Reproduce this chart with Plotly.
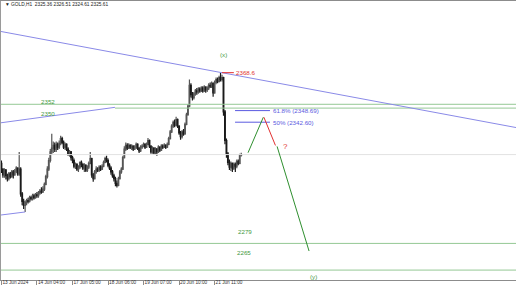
import plotly.graph_objects as go

# ---------------- data (GOLD H1, bar index based like MT4) ----------------
first_open = 2321.0
closes = [
    2318.0, 2315.0, 2317.5, 2314.5, 2313.0, 2315.5, 2314.0, 2316.5, 2315.0, 2317.0,
    2318.5, 2315.5, 2318.0, 2305.0, 2301.0, 2299.0, 2300.5, 2301.5, 2301.0, 2303.0,
    2302.5, 2304.0, 2303.0, 2304.5, 2304.0, 2305.5, 2306.5, 2306.0, 2307.5, 2310.0,
    2314.0, 2318.0, 2322.5, 2327.0, 2329.0, 2330.5, 2328.5, 2331.0, 2329.5, 2331.5,
    2334.0, 2332.0, 2329.5, 2331.0, 2328.5, 2326.0, 2327.0, 2324.0, 2322.5, 2319.5,
    2320.5, 2318.0, 2319.0, 2321.5, 2320.5, 2318.5, 2320.0, 2317.5, 2319.0, 2321.0,
    2323.5, 2315.0, 2313.0, 2316.5, 2318.0, 2317.5, 2319.0, 2318.0, 2319.5, 2321.5,
    2323.5, 2322.5, 2320.0, 2318.5, 2316.5, 2314.5, 2313.0, 2310.5, 2309.5, 2313.0,
    2316.5, 2318.0, 2324.0, 2328.5, 2330.5, 2329.0, 2330.5, 2329.5, 2330.0, 2328.5,
    2329.5, 2331.0, 2329.0, 2327.5, 2329.5, 2330.0, 2331.0, 2329.5, 2331.0, 2333.0,
    2330.0, 2327.0, 2329.0, 2326.5, 2328.5, 2327.0, 2329.5, 2328.0, 2330.0, 2329.5,
    2330.5, 2329.5, 2331.0, 2334.0, 2337.5, 2340.5, 2342.5, 2341.0, 2344.0, 2340.5,
    2337.0, 2335.0, 2337.5, 2336.5, 2341.5, 2346.5, 2351.0, 2362.0, 2357.0, 2355.5,
    2357.5, 2359.0, 2358.5, 2360.0, 2359.0, 2360.5, 2359.0, 2361.0, 2359.5, 2360.5,
    2362.0, 2361.5, 2363.0, 2358.0, 2363.5, 2365.0, 2364.0, 2366.0, 2365.0, 2366.0,
    2348.0, 2333.0, 2326.0, 2321.5, 2319.0, 2321.0, 2318.5, 2320.5, 2319.5, 2322.0,
    2321.0, 2325.36, 2325.61,
]
highs = [
    2322.5, 2318.5, 2318.5, 2318.0, 2315.5, 2316.5, 2316.5, 2317.5, 2317.5, 2318.0,
    2319.5, 2319.0, 2327.0, 2319.0, 2306.0, 2302.5, 2301.5, 2302.5, 2303.0, 2304.0,
    2304.0, 2305.0, 2305.0, 2305.5, 2306.0, 2306.5, 2307.5, 2308.5, 2309.0, 2311.0,
    2315.0, 2319.5, 2324.0, 2328.5, 2336.5, 2332.5, 2332.0, 2332.5, 2332.0, 2333.0,
    2335.5, 2335.0, 2333.0, 2332.0, 2331.5, 2329.5, 2328.0, 2327.5, 2325.0, 2323.5,
    2321.5, 2321.0, 2320.0, 2322.0, 2322.5, 2321.0, 2321.0, 2320.5, 2320.0, 2322.0,
    2327.0, 2324.0, 2316.0, 2317.5, 2319.5, 2319.0, 2320.0, 2320.0, 2320.5, 2322.5,
    2324.5, 2325.0, 2323.5, 2321.0, 2319.5, 2317.5, 2315.5, 2314.0, 2312.0, 2314.0,
    2317.5, 2319.0, 2325.0, 2330.0, 2332.0, 2331.5, 2331.5, 2331.0, 2331.0, 2330.5,
    2330.5, 2332.0, 2331.5, 2329.5, 2330.5, 2331.0, 2332.0, 2331.5, 2332.0, 2334.3,
    2333.5, 2330.5, 2330.0, 2329.5, 2329.5, 2329.0, 2330.5, 2330.0, 2331.0, 2331.0,
    2331.5, 2331.0, 2332.0, 2335.0, 2338.5, 2341.5, 2343.5, 2344.0, 2345.5, 2344.5,
    2341.0, 2338.0, 2338.5, 2339.0, 2342.5, 2347.5, 2352.0, 2365.0, 2363.0, 2358.5,
    2358.5, 2360.0, 2360.5, 2361.0, 2361.0, 2361.5, 2361.5, 2362.0, 2361.5, 2361.5,
    2363.0, 2363.5, 2364.0, 2363.5, 2364.5, 2366.0, 2366.0, 2367.0, 2368.6, 2367.5,
    2366.5, 2349.0, 2334.0, 2327.0, 2323.0, 2322.0, 2321.5, 2321.5, 2321.5, 2323.0,
    2323.0, 2326.0, 2326.51,
]
lows = [
    2316.0, 2313.5, 2313.5, 2312.5, 2311.5, 2312.0, 2313.0, 2313.5, 2313.0, 2314.5,
    2316.0, 2314.5, 2314.5, 2303.5, 2299.0, 2297.0, 2295.5, 2299.0, 2300.0, 2300.5,
    2301.5, 2301.5, 2302.0, 2302.5, 2303.0, 2303.0, 2304.5, 2305.0, 2305.5, 2306.5,
    2309.5, 2313.0, 2317.0, 2321.5, 2325.5, 2326.5, 2327.0, 2327.0, 2328.0, 2328.5,
    2330.5, 2331.0, 2328.5, 2328.0, 2327.5, 2325.0, 2324.5, 2322.5, 2321.0, 2318.5,
    2318.0, 2317.0, 2316.5, 2318.0, 2319.0, 2317.5, 2316.5, 2316.5, 2316.5, 2318.0,
    2320.5, 2313.5, 2311.3, 2312.5, 2315.5, 2316.5, 2316.5, 2317.0, 2317.5, 2319.0,
    2321.0, 2321.5, 2319.0, 2317.5, 2315.0, 2313.5, 2311.5, 2309.0, 2308.3, 2309.0,
    2312.5, 2315.5, 2317.5, 2323.5, 2327.5, 2328.0, 2328.5, 2328.5, 2328.0, 2327.5,
    2328.0, 2328.5, 2328.0, 2326.5, 2327.0, 2328.5, 2329.5, 2328.5, 2329.0, 2330.5,
    2329.0, 2326.0, 2326.0, 2325.5, 2325.5, 2325.0, 2326.5, 2327.0, 2327.5, 2328.5,
    2329.0, 2328.5, 2329.0, 2330.5, 2333.5, 2337.0, 2339.5, 2340.0, 2340.5, 2339.5,
    2336.0, 2333.4, 2334.0, 2335.5, 2336.0, 2341.0, 2346.0, 2350.5, 2355.5, 2354.0,
    2354.5, 2356.5, 2357.0, 2357.5, 2358.0, 2358.5, 2358.0, 2358.5, 2358.0, 2358.5,
    2359.5, 2360.5, 2360.5, 2356.0, 2357.5, 2362.5, 2363.0, 2363.5, 2364.0, 2364.0,
    2346.0, 2331.0, 2324.0, 2320.0, 2317.5, 2317.0, 2316.5, 2317.5, 2316.5, 2318.5,
    2320.0, 2320.5, 2324.61,
]
opens = [first_open] + closes[:-1]
bars = list(range(len(closes)))

tick_bars = [0, 24, 48, 72, 96, 120, 144]
tick_text = ["13 Jun 2024", "14 Jun 04:00", "17 Jun 05:00", "18 Jun 06:00",
             "19 Jun 07:00", "20 Jun 10:00", "21 Jun 11:00"]

header = "\u25bc GOLD,H1  2325.36 2326.51 2324.61 2325.61"
current_price = 2325.61
level_prices = [2352, 2350, 2279, 2265]
level_start = [-0.3, 76.7, -0.3, -0.3]
level_labels = ["2352", "2350", "2279", "2265"]
level_label_pos = [(31.5, 2353.7), (31.5, 2347.4), (164.5, 2285.0), (163.9, 2274.0)]

top_high = 2368.6
fib_prices = [2348.69, 2342.60]
fib_labels = ["61.8% (2348.69)", "50% (2342.60)"]

# trendlines (bar index, price)
upper_tl_x = [-0.3, 347.6]
upper_tl_y = [2390.2, 2339.8]
lower_tl_x = [-0.3, 76.7]
lower_tl_y = [2342.3, 2350.4]
base_tl_x = [-0.3, 16]
base_tl_y = [2293.9, 2295.5]

# projected path
proj_up_x = [166.6, 176.9]
proj_up_y = [2326.6, 2345.2]
proj_red_x = [177.3, 185.1]
proj_red_y = [2345.2, 2330.4]
proj_dn_x = [186.2, 207.8]
proj_dn_y = [2329.9, 2275.0]

X_RANGE = [-0.3, 347.6]
Y_RANGE = [2259.8, 2406.2]

GREEN_LVL = "#95c895"
GREEN_TXT = "#3f9a3f"
GREEN_PROJ = "#2f8f2f"
RED = "#e23030"
BLUE_TL = "#8a8ae8"
BLUE_FIB = "#5a5ae0"
FONT = "Liberation Sans"

fig = go.Figure()

# current price line
fig.add_trace(go.Scatter(x=X_RANGE, y=[current_price, current_price], mode="lines",
                         line=dict(color="#e2e2e2", width=1), hoverinfo="skip"))

# horizontal levels
for p, xs in zip(level_prices, level_start):
    fig.add_trace(go.Scatter(x=[xs, X_RANGE[1]], y=[p, p], mode="lines",
                             line=dict(color=GREEN_LVL, width=1), hoverinfo="skip"))

# trendlines
for xs, ys in [(upper_tl_x, upper_tl_y), (lower_tl_x, lower_tl_y), (base_tl_x, base_tl_y)]:
    fig.add_trace(go.Scatter(x=xs, y=ys, mode="lines",
                             line=dict(color=BLUE_TL, width=1), hoverinfo="skip"))

# fib lines
for p in fib_prices:
    fig.add_trace(go.Scatter(x=[157.8, 181.4], y=[p, p], mode="lines",
                             line=dict(color=BLUE_FIB, width=1), hoverinfo="skip"))

# high marker line
fig.add_trace(go.Scatter(x=[149.0, 157.0], y=[top_high, top_high], mode="lines",
                         line=dict(color=RED, width=1), hoverinfo="skip"))

# candles
fig.add_trace(go.Candlestick(
    x=bars, open=opens, high=highs, low=lows, close=closes,
    increasing=dict(line=dict(color="#555555", width=1.2), fillcolor="#ffffff"),
    decreasing=dict(line=dict(color="#1a1a1a", width=1.2), fillcolor="#1a1a1a"),
    whiskerwidth=0, hoverinfo="skip"))

# projection
fig.add_trace(go.Scatter(x=proj_up_x, y=proj_up_y, mode="lines",
                         line=dict(color=GREEN_PROJ, width=1), hoverinfo="skip"))
fig.add_trace(go.Scatter(x=proj_red_x, y=proj_red_y, mode="lines",
                         line=dict(color=RED, width=1), hoverinfo="skip"))
fig.add_trace(go.Scatter(x=proj_dn_x, y=proj_dn_y, mode="lines",
                         line=dict(color=GREEN_PROJ, width=1), hoverinfo="skip"))

ann = []
for txt, (ax, ay) in zip(level_labels, level_label_pos):
    ann.append(dict(x=ax, y=ay, text=txt, showarrow=False, xanchor="center", yanchor="middle",
                    font=dict(family=FONT, size=6.2, color=GREEN_TXT)))
for txt, p in zip(fib_labels, fib_prices):
    ann.append(dict(x=182.1, y=p, text=txt, showarrow=False, xanchor="left", yanchor="middle",
                    font=dict(family=FONT, size=6.2, color=BLUE_FIB)))
ann.append(dict(x=157.3, y=2368.9, text="2368.6", showarrow=False, xanchor="left", yanchor="middle",
                font=dict(family=FONT, size=6.2, color=RED)))
ann.append(dict(x=149.7, y=2377.9, text="(x)", showarrow=False, xanchor="center", yanchor="middle",
                font=dict(family=FONT, size=6.2, color=GREEN_TXT)))
ann.append(dict(x=211.1, y=2261.4, text="(y)", showarrow=False, xanchor="center", yanchor="middle",
                font=dict(family=FONT, size=6.2, color=GREEN_TXT)))
ann.append(dict(x=191.6, y=2329.6, text="?", showarrow=False, xanchor="center", yanchor="middle",
                font=dict(family=FONT, size=8, color=RED)))
ann.append(dict(xref="paper", yref="paper", x=0.004, y=0.986, text=header, showarrow=False,
                xanchor="left", yanchor="middle", font=dict(family=FONT, size=4.8, color="#222222")))

fig.update_layout(
    width=516, height=290,
    margin=dict(l=1, r=0, t=1, b=10),
    paper_bgcolor="white", plot_bgcolor="white",
    showlegend=False,
    annotations=ann,
    xaxis=dict(range=X_RANGE, showgrid=False, zeroline=False, rangeslider=dict(visible=False),
               showline=True, linecolor="#8c8c8c", linewidth=1, mirror=True,
               tickmode="array", tickvals=tick_bars, ticktext=tick_text,
               ticks="outside", ticklen=4, tickcolor="#8c8c8c", tickwidth=1,
               tickangle=0, ticklabelposition="outside right", ticklabelstandoff=-3,
               tickfont=dict(family=FONT, size=4.7, color="#333333"), automargin=False),
    yaxis=dict(range=Y_RANGE, showgrid=False, zeroline=False, showticklabels=False,
               showline=True, linecolor="#9a9a9a", linewidth=1, ticks="", automargin=False),
)

fig.write_html("out.html")
